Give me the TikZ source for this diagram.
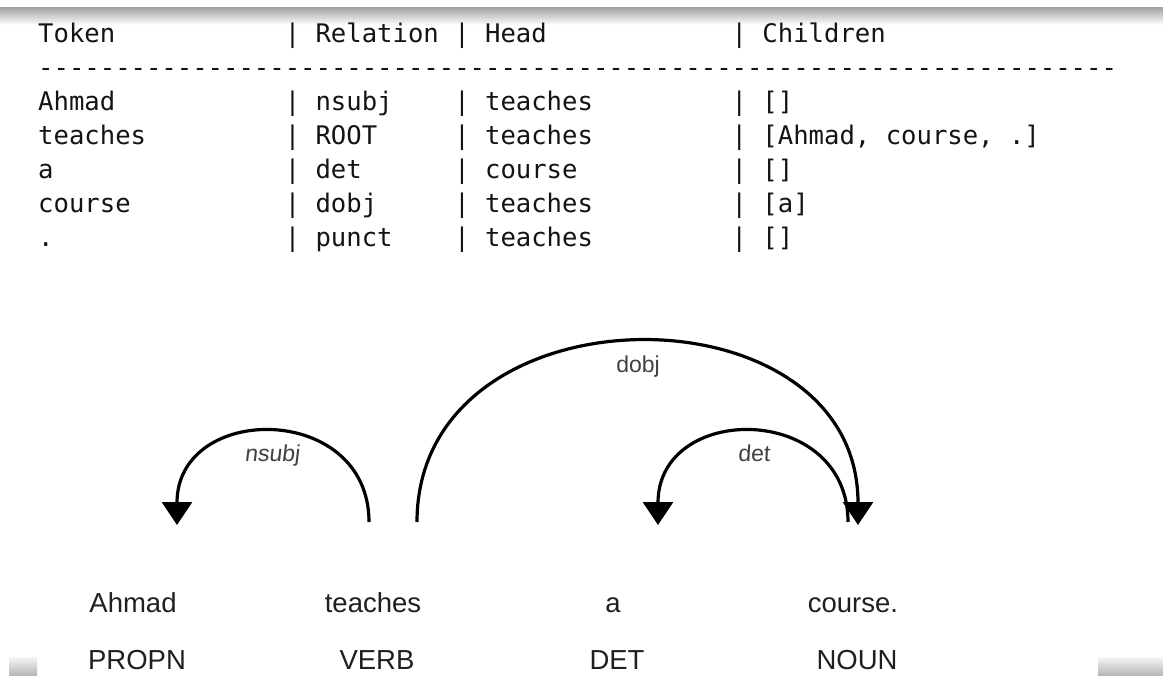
\documentclass[tikz,border=0pt]{standalone}
\usepackage{fontspec}
\setmainfont{Liberation Sans}
\setmonofont{DejaVu Sans Mono}
\usetikzlibrary{arrows.meta}

% column origin and character advance of the listing
\newcommand{\colx}[1]{38+#1*15.41}

\begin{document}
\begin{tikzpicture}[x=1pt,y=-1pt,
  cell/.style={anchor=base west,inner sep=0pt,text=black!92,
    font=\ttfamily\fontsize{25.6}{30}\selectfont},
  word/.style={anchor=base,inner sep=0pt,text=black!88,
    font=\fontsize{27.5}{32}\selectfont},
  arclabel/.style={anchor=base,inner sep=0pt,text=black!75,
    font=\fontsize{23}{27}\selectfont},
  deparc/.style={line width=3.2pt,draw=black,
    -{Triangle[width=30pt,length=23pt]}},
  ]
\useasboundingbox (0,0) rectangle (1163,682);
\fill[white] (0,0) rectangle (1163,682);

% window edge shadows
\shade[top color=black!35,bottom color=white] (0,8) rectangle (1163,25);
\shade[top color=black!4,bottom color=black!28] (9,657) rectangle (37,675);
\shade[top color=black!4,bottom color=black!28] (1098,657) rectangle (1163,675);

% ---- token table ----
\node[cell] (h1) at ({\colx{0}},43) {Token};
\node[cell] (h2) at ({\colx{16}},43) {| Relation | Head};
\node[cell] (h3) at ({\colx{45}},43) {| Children};
\node[cell] (hl) at ({\colx{0}},77) {----------------------------------------------------------------------};

\node[cell] (t1) at ({\colx{0}},111) {Ahmad};
\node[cell] (t2) at ({\colx{0}},145) {teaches};
\node[cell] (t3) at ({\colx{0}},179) {a};
\node[cell] (t4) at ({\colx{0}},213) {course};
\node[cell] (t5) at ({\colx{0}},247) {.};

\node[cell] (r1) at ({\colx{16}},111) {| nsubj};
\node[cell] (r2) at ({\colx{16}},145) {| ROOT};
\node[cell] (r3) at ({\colx{16}},179) {| det};
\node[cell] (r4) at ({\colx{16}},213) {| dobj};
\node[cell] (r5) at ({\colx{16}},247) {| punct};

\node[cell] (d1) at ({\colx{27}},111) {| teaches};
\node[cell] (d2) at ({\colx{27}},145) {| teaches};
\node[cell] (d3) at ({\colx{27}},179) {| course};
\node[cell] (d4) at ({\colx{27}},213) {| teaches};
\node[cell] (d5) at ({\colx{27}},247) {| teaches};

\node[cell] (c1) at ({\colx{45}},111) {| []};
\node[cell] (c2) at ({\colx{45}},145) {| [Ahmad, course, .]};
\node[cell] (c3) at ({\colx{45}},179) {| []};
\node[cell] (c4) at ({\colx{45}},213) {| [a]};
\node[cell] (c5) at ({\colx{45}},247) {| []};

% ---- dependency graph ----
\node[word] (w1) at (133,612) {Ahmad};
\node[word] (w2) at (373,612) {teaches};
\node[word] (w3) at (613,612) {a};
\node[word] (w4) at (853,612) {course.};

\node[word] (p1) at (137,669) {PROPN};
\node[word] (p2) at (377,669) {VERB};
\node[word] (p3) at (617,669) {DET};
\node[word] (p4) at (857,669) {NOUN};

% arc end points above the words
\coordinate (nsubj-from) at (369,522);
\coordinate (nsubj-to)   at (177,525);
\coordinate (dobj-from)  at (417,522);
\coordinate (dobj-to)    at (858,525);
\coordinate (det-from)   at (848,522);
\coordinate (det-to)     at (658,525);

\draw[deparc] (nsubj-from) .. controls (369,402) and (177,402) .. (nsubj-to);
\draw[deparc] (dobj-from) .. controls (417,282) and (858,282) .. (dobj-to);
\draw[deparc] (det-from) .. controls (848,402) and (658,402) .. (det-to);

\node[arclabel,xslant=0.12] (l1) at (272,461) {nsubj};
\node[arclabel] (l2) at (638,372) {dobj};
\node[arclabel,xslant=0.06] (l3) at (754,461) {det};
\end{tikzpicture}
\end{document}
